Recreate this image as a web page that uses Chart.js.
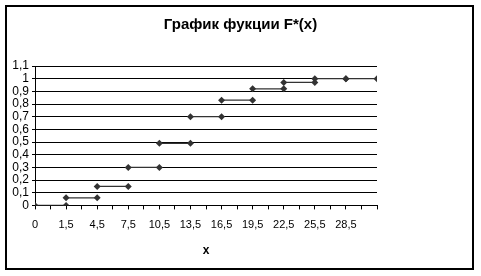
<!DOCTYPE html>
<html>
<head>
<meta charset="utf-8">
<script src="https://cdn.jsdelivr.net/npm/chart.js@4"></script>
<style>
  html, body { margin: 0; padding: 0; background: #fff; }
  #wrap { width: 481px; height: 276px; }
</style>
</head>
<body>
<div id="wrap"><canvas id="chart" width="481" height="276"></canvas></div>
<script>
// Подписи оси X (категории) и оси Y
const xLabels = ["0", "1,5", "4,5", "7,5", "10,5", "13,5", "16,5", "19,5", "22,5", "25,5", "28,5"];
const yLabels = ["0", "0,1", "0,2", "0,3", "0,4", "0,5", "0,6", "0,7", "0,8", "0,9", "1", "1,1"];

// Ступеньки F*(x): начало отрезка (индекс категории) и значение
const stepStart = [0, 1, 2, 3, 4, 5, 6, 7, 8, 9, 10];
const stepValue = [0, 0.06, 0.15, 0.3, 0.49, 0.7, 0.83, 0.92, 0.97, 1, 1];

const markColor = "#333333";

const datasets = stepStart.map((s, i) => ({
    data: [{ x: s, y: stepValue[i] }, { x: s + 1, y: stepValue[i] }],
    borderColor: markColor,
    backgroundColor: markColor,
    borderWidth: 1.3,
    pointStyle: "rectRot",
    pointRadius: 3.5,
    pointBorderWidth: 0,
    showLine: true,
    fill: false
}));

// Рамка вокруг всей диаграммы
const frame = {
    id: "frame",
    afterDraw(chart) {
        const c = chart.ctx;
        c.save();
        c.strokeStyle = "#000";
        c.lineWidth = 2;
        c.strokeRect(6, 6, 467, 263);
        c.restore();
    }
};

new Chart(document.getElementById("chart"), {
    type: "scatter",
    data: { datasets: datasets },
    plugins: [frame],
    options: {
        responsive: false,
        animation: false,
        layout: { padding: { left: 0, right: 0, top: 0, bottom: 18 } },
        plugins: {
            legend: { display: false },
            tooltip: { enabled: false },
            title: {
                display: true,
                text: "График фукции F*(x)",
                color: "#000",
                font: { family: "Liberation Sans", size: 15, weight: "bold" },
                padding: { top: 16, bottom: 32 }
            }
        },
        scales: {
            x: {
                type: "linear",
                min: 0,
                max: 11,
                ticks: {
                    stepSize: 0.5,
                    autoSkip: false,
                    maxRotation: 0,
                    color: "#000",
                    padding: 9,
                    font: { family: "Liberation Sans", size: 11 },
                    callback: v => Number.isInteger(v) && v < xLabels.length ? xLabels[v] : ""
                },
                grid: { drawOnChartArea: false, color: "#000", tickLength: 4, tickColor: "#000" },
                border: { color: "#000", width: 1 },
                title: {
                    display: true,
                    text: "x",
                    color: "#000",
                    font: { family: "Liberation Sans", size: 12, weight: "bold" },
                    padding: { top: 3, bottom: 0 }
                }
            },
            y: {
                min: 0,
                max: 1.1,
                afterFit: s => { s.width = 35; },
                ticks: {
                    stepSize: 0.1,
                    autoSkip: false,
                    color: "#000",
                    padding: 3,
                    font: { family: "Liberation Sans", size: 12 },
                    callback: (v, i) => yLabels[i]
                },
                grid: { color: "#000", tickLength: 3, lineWidth: 1 },
                border: { color: "#000", width: 1 }
            },
            // пустое место справа от области построения
            yRight: {
                position: "right",
                afterFit: s => { s.width = 104; },
                ticks: { display: false },
                grid: { display: false },
                border: { display: false }
            }
        }
    }
});
</script>
</body>
</html>
